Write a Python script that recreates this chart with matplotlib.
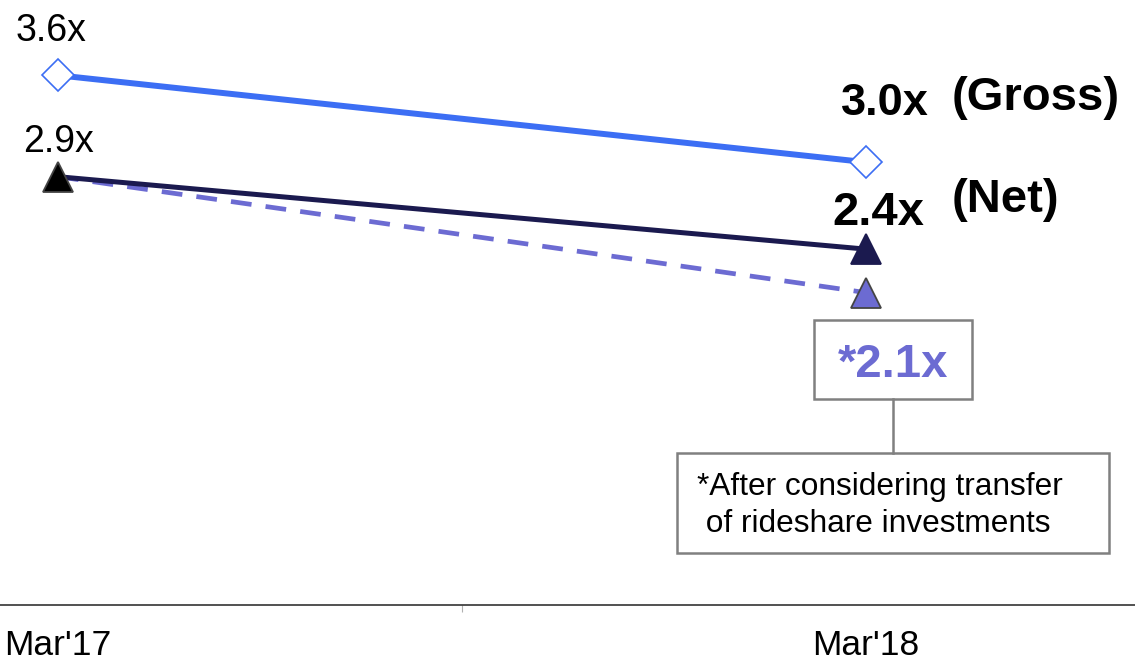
import matplotlib
matplotlib.use("Agg")
import matplotlib.pyplot as plt
from matplotlib.patches import Rectangle
from matplotlib.lines import Line2D

# Leverage ratio (times) at each period end
periods = ["Mar'17", "Mar'18"]
gross = [3.6, 3.0]
net = [2.9, 2.4]
net_adjusted = [2.9, 2.1]   # after transfer of rideshare investments
gross_name = "(Gross)"
net_name = "(Net)"
footnote = ["*After considering transfer", " of rideshare investments"]

W, H = 1135, 661
BLUE = "#3c6ef4"
NAVY = "#1b1a4f"
LAVENDER = "#6c6bd2"
GREY = "#808080"

plt.rcParams["font.family"] = ["Liberation Sans", "DejaVu Sans"]

fig = plt.figure(figsize=(W / 100, H / 100), dpi=100)
ax = fig.add_axes([0, 56 / H, 1, 605 / H])
ax.set_xlim(-0.0718, 1.333)
ax.set_ylim(-0.056, 4.1195)

xs = list(range(len(periods)))

# series lines
ax.plot(xs, gross, color=BLUE, lw=4.3, zorder=3, solid_capstyle="butt")
ax.plot(xs, net_adjusted, color=LAVENDER, lw=3.4, ls=(0, (4.4, 3.0)), zorder=2)
ax.plot(xs, net, color=NAVY, lw=3.6, zorder=3, solid_capstyle="butt")

# markers
for xi, yi in zip(xs, gross):
    ax.plot(xi, yi, marker="D", ms=15.8, mfc="white", mec=BLUE, mew=1.2,
            zorder=5, clip_on=False)
net_face = ["black", NAVY]
net_edge = ["#444444", NAVY]
for xi, yi, fc, ec in zip(xs, net, net_face, net_edge):
    ax.plot(xi, yi, marker="^", ms=22.3, mfc=fc, mec=ec, mew=1.3,
            zorder=6, clip_on=False)
ax.plot(xs[1], net_adjusted[1], marker="^", ms=22.3, mfc=LAVENDER,
        mec="#444444", mew=1.3, zorder=6, clip_on=False)


# value labels
def label(xi, yi, text, dx, dy, size, weight="normal", ha="center", color="black"):
    ax.annotate(text, (xi, yi), xytext=(dx, dy), textcoords="offset pixels",
                ha=ha, va="baseline", fontsize=size, fontweight=weight,
                color=color, annotation_clip=False)


label(xs[0], gross[0], f"{gross[0]:.1f}x", -7, 34, 27)
label(xs[0], net[0], f"{net[0]:.1f}x", 0, 25, 27)
label(xs[1], gross[1], f"{gross[1]:.1f}x", -25, 47, 32.5, "bold", "left")
label(xs[1], net[1], f"{net[1]:.1f}x", -34, 24, 34, "bold", "left")

# series names
label(xs[1], gross[1], gross_name, 86, 52, 34, "bold", "left")
label(xs[1], net[1], net_name, 86, 37, 34, "bold", "left")


# callout boxes (figure pixel positions)
def fx(px):
    return px / W


def fy(py):
    return 1 - py / H


fig.patches.append(Rectangle((fx(814), fy(399)), fx(972) - fx(814), fy(320) - fy(399),
                             transform=fig.transFigure, fill=False, ec=GREY, lw=1.8))
fig.patches.append(Rectangle((fx(677), fy(553)), fx(1109) - fx(677), fy(453) - fy(553),
                             transform=fig.transFigure, fill=False, ec=GREY, lw=1.8))
fig.lines.append(Line2D([fx(893), fx(893)], [fy(399), fy(453)],
                        transform=fig.transFigure, color=GREY, lw=1.8))
fig.text(fx(893), fy(377), f"*{net_adjusted[1]:.1f}x", ha="center", va="baseline",
         fontsize=34, fontweight="bold", color=LAVENDER)
fig.text(fx(697), fy(495), footnote[0], ha="left", va="baseline", fontsize=22.8)
fig.text(fx(697), fy(532), footnote[1], ha="left", va="baseline", fontsize=22.8)

# axes styling
for side in ["top", "left", "right"]:
    ax.spines[side].set_visible(False)
ax.spines["bottom"].set_linewidth(1.1)
ax.spines["bottom"].set_color("#222222")
ax.set_yticks([])
ax.set_xticks(xs, periods)
ax.set_xticks([0.5], minor=True)
ax.tick_params(axis="x", which="major", length=0, pad=17, labelsize=25.5)
ax.tick_params(axis="x", which="minor", length=5, width=0.8, color="#b0b0b0")

fig.savefig("out.png", dpi=100)
